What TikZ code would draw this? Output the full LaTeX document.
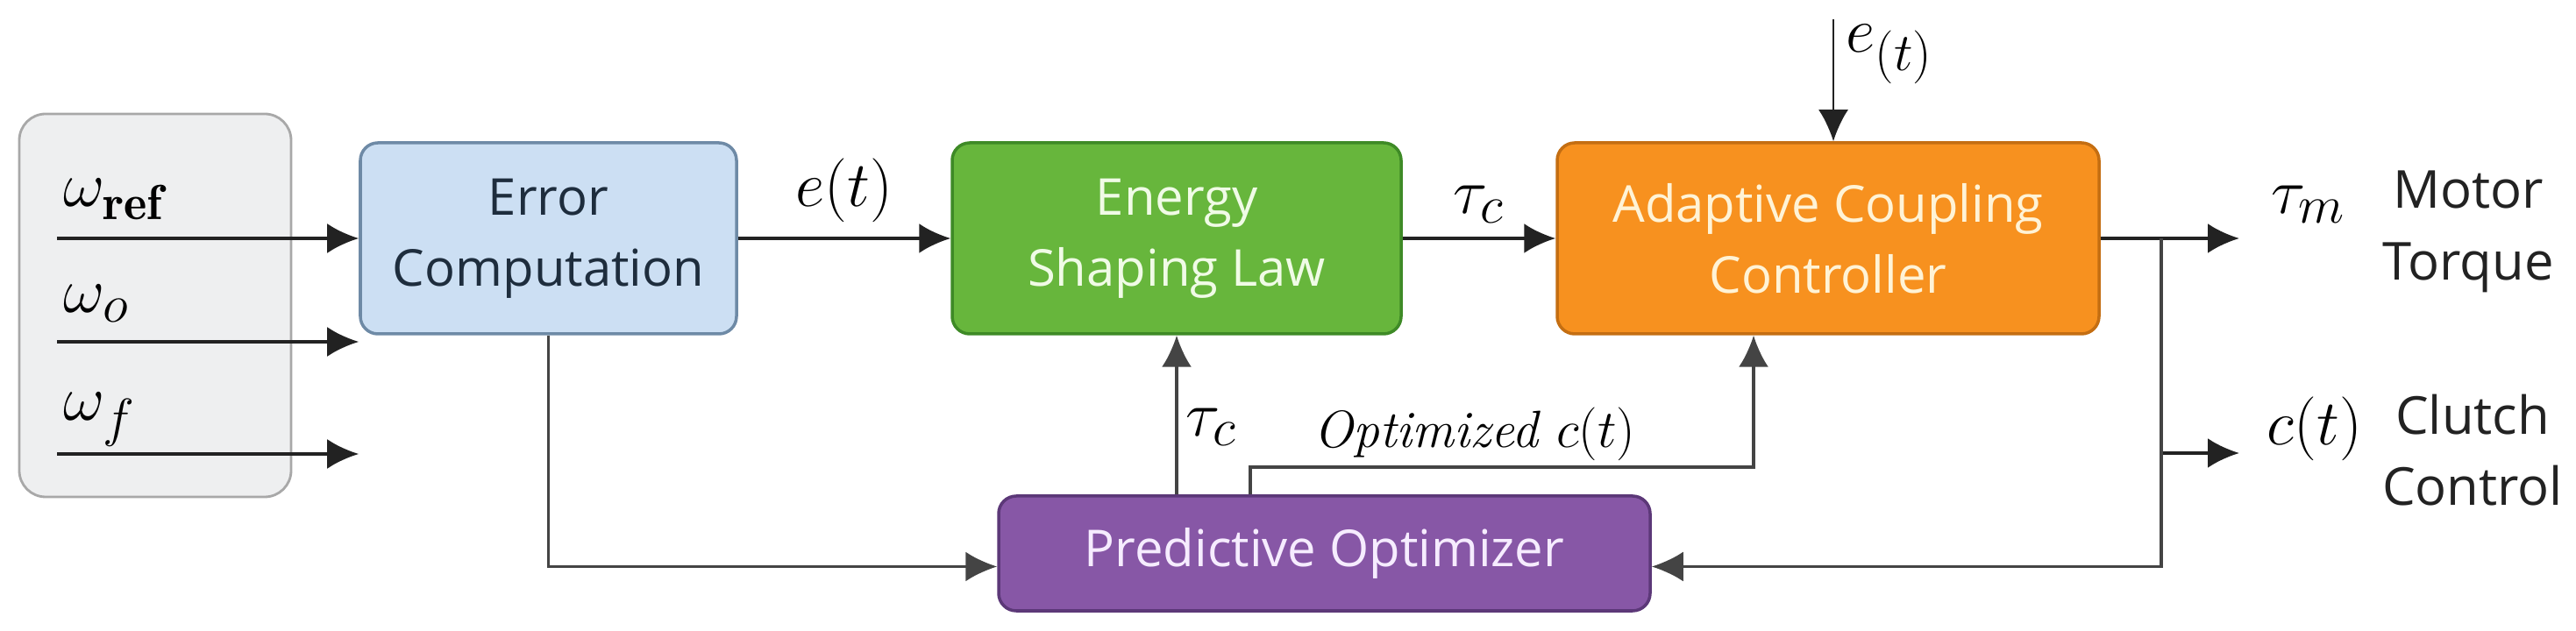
\documentclass[tikz,border=0pt]{standalone}
\usepackage{fontspec}
\setsansfont{Open Sans}
\usetikzlibrary{arrows.meta,positioning}
\DeclareMathSizes{20}{20}{16}{12}
\DeclareMathSizes{17}{17}{13.6}{10}
\definecolor{linec}{HTML}{222222}
\definecolor{fbline}{HTML}{444444}
\definecolor{grayfill}{HTML}{EEEFF0}
\definecolor{grayline}{HTML}{A8A8A8}
\definecolor{errfill}{HTML}{CCDFF3}
\definecolor{errline}{HTML}{6E8AA6}
\definecolor{errtext}{HTML}{1E2D3D}
\definecolor{esfill}{HTML}{67B63C}
\definecolor{esline}{HTML}{3E8A26}
\definecolor{estext}{HTML}{F0FBE6}
\definecolor{accfill}{HTML}{F7911F}
\definecolor{accline}{HTML}{C46E12}
\definecolor{acctext}{HTML}{FFF3D6}
\definecolor{pofill}{HTML}{8757A6}
\definecolor{poline}{HTML}{5C3878}
\definecolor{potext}{HTML}{F6ECFF}
\begin{document}
\begin{tikzpicture}[font=\sffamily, >={Latex[length=3.6mm,width=3.4mm]},
    block/.style={draw, line width=1pt, rounded corners=2mm, minimum height=2.18cm, align=center, font=\sffamily\fontsize{16.5}{23}\selectfont},
    sig/.style={->, line width=1.1pt, draw=linec},
    fb/.style={->, line width=0.9pt, draw=fbline},
    lab/.style={font=\fontsize{20}{24}\selectfont, inner sep=0pt},
    smalllab/.style={font=\rmfamily\fontsize{17}{20}\selectfont, inner sep=0pt},
    outlab/.style={font=\sffamily\fontsize{17}{23.3}\selectfont, align=center, inner sep=0pt, text=linec}]
    % 1 unit = 100 px of the 2938 x 720 layout, y pointing down
    \useasboundingbox (0,0) rectangle (29.38,-7.2);
    \node[draw=grayline, fill=grayfill, line width=0.8pt, rounded corners=3mm, minimum width=3.10cm, minimum height=4.37cm] (inputs) at (1.77,-3.485) {};
    \node[block, fill=errfill, draw=errline, text=errtext, minimum width=4.29cm] (err) at (6.255,-2.72) {Error\\Computation};
    \node[block, fill=esfill, draw=esline, text=estext, minimum width=5.12cm] (esl) at (13.42,-2.72) {Energy\\Shaping Law};
    \node[block, fill=accfill, draw=accline, text=acctext, minimum width=6.18cm] (acc) at (20.85,-2.72) {Adaptive Coupling\\Controller};
    \node[block, fill=pofill, draw=poline, text=potext, minimum width=7.43cm, minimum height=1.31cm] (opt) at (15.105,-6.315) {Predictive Optimizer};

    % measured inputs
    \coordinate (wref) at (0.65,-2.72);
    \coordinate (wo) at (0.65,-3.90);
    \coordinate (wf) at (0.65,-5.18);
    \draw[sig] (wref) -- (err);
    \draw[sig] (wo) -- (wo -| err.west);
    \draw[sig] (wf) -- (wf -| err.west);
    \node[lab, anchor=base west] (lref) at (0.72,-2.36) {$\omega_{\mathbf{ref}}$};
    \node[lab, anchor=base west] (lo) at (0.72,-3.57) {$\omega_o$};
    \node[lab, anchor=base west] (lf) at (0.72,-4.80) {$\omega_f$};

    % forward path
    \draw[sig] (err) -- node[lab, above=1.6mm] (let) {$e(t)$} (esl);
    \draw[sig] (esl) -- node[lab, above=1.6mm] (ltc) {$\tau_c$} (acc);
    \coordinate (etop) at (20.91,-0.22);
    \draw[->, line width=0.8pt, draw=linec] (etop) -- (etop |- acc.north);
    \node[lab, anchor=west] (letop) at (21.05,-0.62) {$e_{(t)}$};

    % outputs
    \coordinate (split) at (24.65,-2.72);
    \coordinate (tmout) at (25.54,-2.72);
    \coordinate (ctout) at (25.54,-5.17);
    \draw[sig] (acc) -- (tmout);
    \draw[sig] (split |- ctout) -- (ctout);
    \node[lab, anchor=base west] (ltm) at (25.90,-2.44) {$\tau_m$};
    \node[outlab, anchor=north] (lmt) at (28.15,-1.94) {Motor\\Torque};
    \node[lab, anchor=base west] (lct) at (25.85,-5.08) {$c(t)$};
    \node[outlab, anchor=north] (lcc) at (28.20,-4.49) {Clutch\\Control};

    % optimizer loop
    \draw[fb] (err.south) |- ([yshift=-1.5mm]opt.west);
    \draw[fb] (split) |- ([yshift=-1.5mm]opt.east);
    \draw[fb] (opt.north -| esl.south) -- (esl.south);
    \node[lab, anchor=base west] (ltc2) at (13.52,-4.98) {$\tau_c$};
    \coordinate (oc) at (14.26,-5.33);
    \draw[fb] (oc |- opt.north) -- (oc) -| ([xshift=-8.5mm]acc.south);
    \node[smalllab, anchor=base west] (lopt) at (14.98,-5.11) {\itshape Optimized $c(t)$};
\end{tikzpicture}
\end{document}
